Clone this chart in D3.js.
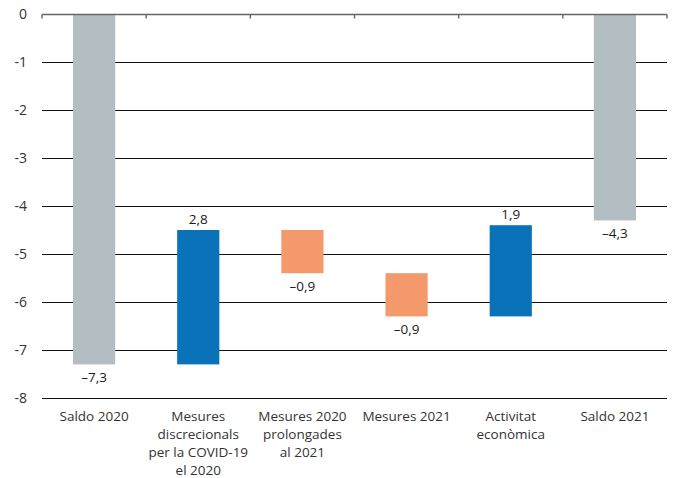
<!DOCTYPE html>
<html>
<head>
<meta charset="utf-8">
<script src="https://cdn.jsdelivr.net/npm/d3@7"></script>
<style>
  html, body { margin: 0; padding: 0; background: #fff; }
  svg { display: block; font-family: "Open Sans", "Noto Sans", sans-serif; }
</style>
</head>
<body>
<svg id="chart" width="675" height="478"></svg>
<script>
// Bridge of the budget balance from 2020 to 2021 (% of GDP)
const categories = [
  ["Saldo 2020"],
  ["Mesures", "discrecionals", "per la COVID-19", "el 2020"],
  ["Mesures 2020", "prolongades", "al 2021"],
  ["Mesures 2021"],
  ["Activitat", "econòmica"],
  ["Saldo 2021"]
];
// Each step: the change shown in its label; totals start from zero
const stepValues = [-7.3, 2.8, -0.9, -0.9, 1.9, -4.3];
const stepKinds = ["total", "delta", "delta", "delta", "delta", "total"];
const yTicks = [0, -1, -2, -3, -4, -5, -6, -7, -8];

const colorFor = (kind, v) => kind === "total" ? "#b3bec2" : (v > 0 ? "#0a72b8" : "#f4996b");

const svg = d3.select("#chart");
const margin = { left: 42, right: 8, top: 14, bottom: 80 };
const width = 675, height = 478;

const x = d3.scaleBand()
  .domain(d3.range(categories.length))
  .range([margin.left, width - margin.right])
  .paddingInner(0).paddingOuter(0);

const y = d3.scaleLinear().domain([0, -8]).range([margin.top, 398]);

// Running level through the bridge
let level = 0;
const bars = stepValues.map((v, i) => {
  let from, to;
  if (stepKinds[i] === "total") { from = 0; to = v; level = v; }
  else { from = level; to = level + v; level = to; }
  return { i, v, from, to, kind: stepKinds[i] };
});

// Horizontal gridlines
svg.append("g")
  .selectAll("line")
  .data(yTicks.filter(t => t !== 0))
  .join("line")
  .attr("x1", margin.left).attr("x2", width - margin.right)
  .attr("y1", d => Math.round(y(d)) + 0.5).attr("y2", d => Math.round(y(d)) + 0.5)
  .attr("stroke", "#111").attr("stroke-width", 1.2);

// Y tick labels
svg.append("g")
  .selectAll("text")
  .data(yTicks)
  .join("text")
  .attr("x", 27)
  .attr("y", d => y(d))
  .attr("dy", "0.35em")
  .attr("text-anchor", "end")
  .attr("font-size", 14)
  .attr("fill", "#333")
  .text(d => d === 0 ? "0" : "-" + Math.abs(d));

// Bars
const bw = x.bandwidth() * 0.405;
svg.append("g")
  .selectAll("rect")
  .data(bars)
  .join("rect")
  .attr("x", d => x(d.i) + (x.bandwidth() - bw) / 2)
  .attr("width", bw)
  .attr("y", d => y(Math.max(d.from, d.to)))
  .attr("height", d => Math.abs(y(d.from) - y(d.to)))
  .attr("fill", d => colorFor(d.kind, d.v));

// Zero axis line with category boundary ticks
const axis = svg.append("g").attr("transform", `translate(0,${Math.round(y(0)) + 0.5})`);
axis.append("line")
  .attr("x1", margin.left).attr("x2", width - margin.right)
  .attr("stroke", "#666").attr("stroke-width", 1.6);
axis.selectAll("line.tick")
  .data(d3.range(categories.length + 1))
  .join("line")
  .attr("class", "tick")
  .attr("x1", d => d === categories.length ? x.range()[1] : x(d))
  .attr("x2", d => d === categories.length ? x.range()[1] : x(d))
  .attr("y1", 0).attr("y2", 4)
  .attr("stroke", "#666").attr("stroke-width", 1.4);

// Value labels: above positive steps, below negative ones
const fmt = v => (v < 0 ? "\u2013" : "") + d3.format(".1f")(Math.abs(v)).replace(".", ",");
svg.append("g")
  .selectAll("text")
  .data(bars)
  .join("text")
  .attr("x", d => x(d.i) + x.bandwidth() / 2)
  .attr("y", d => d.v > 0 ? y(Math.max(d.from, d.to)) - 6 : y(Math.min(d.from, d.to)) + 18)
  .attr("text-anchor", "middle")
  .attr("font-size", 13.5)
  .attr("fill", "#1a1a1a")
  .text(d => fmt(d.v));

// Category labels
svg.append("g")
  .selectAll("text")
  .data(categories)
  .join("text")
  .attr("x", (d, i) => x(i) + x.bandwidth() / 2)
  .attr("y", 421)
  .attr("text-anchor", "middle")
  .attr("font-size", 13.5)
  .attr("fill", "#333")
  .each(function(lines) {
    d3.select(this).selectAll("tspan")
      .data(lines)
      .join("tspan")
      .attr("x", d3.select(this).attr("x"))
      .attr("dy", (l, k) => k === 0 ? 0 : 18)
      .text(l => l);
  });
</script>
</body>
</html>
